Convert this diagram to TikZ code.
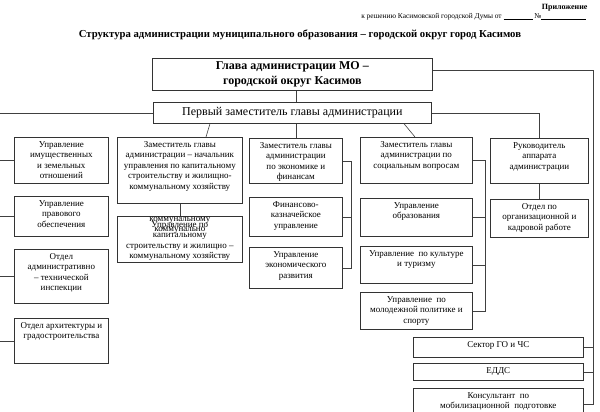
\documentclass[tikz,border=0pt]{standalone}
\usepackage{fontspec}
\setmainfont{Liberation Serif}
\newcommand{\cell}[3]{\parbox[c][#2pt][t]{#1pt}{\centering\rule{0pt}{10pt}#3}}
\begin{document}
\begin{tikzpicture}[x=1pt,y=-1pt,
  box/.style={draw=black!80,line width=0.7pt,inner sep=0pt,anchor=north west,
    font=\fontsize{9}{10.5}\selectfont},
  line/.style={draw=black!75,line width=0.6pt}]

  \useasboundingbox (0,0) rectangle (600,412);
  \clip (0,0) rectangle (600,412);

  % header
  \node[anchor=base east,font=\bfseries\fontsize{8}{9}\selectfont] (pril) at (591,10) {Приложение};
  \node[anchor=base east,font=\fontsize{7.4}{9}\selectfont] (resh) at (590,19)
    {к решению Касимовской городской Думы от \rule[-0.6pt]{29pt}{0.7pt} №\rule[-0.6pt]{45pt}{0.7pt}};
  \node[anchor=base,font=\bfseries\fontsize{10.7}{12}\selectfont] (title) at (300,38)
    {Структура администрации муниципального образования – городской округ город Касимов};

  % top
  \node[box,minimum width=280pt,minimum height=32pt,align=center,
    font=\bfseries\fontsize{12}{14.5}\selectfont] (glava) at (152,58)
    {Глава администрации МО –\\ городской округ Касимов};
  \node[box,minimum width=278pt,minimum height=21pt,
    font=\fontsize{12}{13}\selectfont] (perv) at (153,102)
    {Первый заместитель главы администрации};

  % left column
  \node[box] (imush) at (14,137) {\cell{94}{46}{Управление\\ имущественных\\ и земельных\\ отношений}};
  \node[box] (prav) at (14,196) {\cell{94}{40}{Управление\\ правового\\ обеспечения}};
  \node[box] (ati) at (14,249) {\cell{94}{54}{Отдел\\ административно\\ – технической\\ инспекции}};
  \node[box] (arch) at (14,318) {\cell{94}{45}{Отдел архитектуры и\\ градостроительства}};

  % capital construction
  \node[box] (zamstroy) at (117,137) {\cell{125}{66}{Заместитель главы\\ администрации – начальник\\ управления по капитальному\\ строительству и жилищно-\\ коммунальному хозяйству}};
  \node[box] (ukap) at (117,216) {\parbox[c][46pt][t]{125pt}{\centering\rule{0pt}{5.5pt}коммунальному\\[-4.5pt]
    Управление по\\[-6.5pt]коммунально\\[-4.5pt]капитальному\\
    строительству и жилищно –\\ коммунальному хозяйству}};

  % economics
  \node[box] (zamekon) at (249,138) {\cell{93}{45}{Заместитель главы\\ администрации\\ по экономике и\\ финансам}};
  \node[box] (fin) at (249,197) {\cell{93}{39}{Финансово-\\ казначейское\\ управление}};
  \node[box] (ekon) at (249,247) {\cell{93}{41}{Управление\\ экономического\\ развития}};

  % social
  \node[box] (zamsoc) at (360,137) {\cell{112}{46}{Заместитель главы\\ администрации по\\ социальным вопросам}};
  \node[box] (obr) at (360,198) {\cell{112}{38}{Управление\\ образования}};
  \node[box] (kult) at (360,246) {\cell{112}{37}{Управление\ \ по культуре\\ и туризму}};
  \node[box] (mol) at (360,292) {\cell{112}{37}{Управление\ \ по\\ молодежной политике и\\ спорту}};

  % staff
  \node[box] (ruk) at (490,138) {\cell{98}{45}{Руководитель\\ аппарата\\ администрации}};
  \node[box] (kadr) at (490,199) {\cell{98}{38}{Отдел по\\ организационной и\\ кадровой работе}};

  % bottom right
  \node[box] (go) at (413,337) {\cell{170}{20}{Сектор ГО и ЧС}};
  \node[box] (edds) at (413,363) {\cell{170}{17}{ЕДДС}};
  \node[box] (kons) at (413,388) {\cell{170}{32}{Консультант\ \ по\\ мобилизационной\ \ подготовке}};

  \coordinate (lbus) at (-1,0);
  \coordinate (rbus) at (593,0);
  \coordinate (ebus) at (351,0);
  \coordinate (sbus) at (485,0);

  % connectors
  \path[line] (glava.south -| zamekon.north) -- (perv.north -| zamekon.north);
  \path[line] (perv.south -| zamekon.north) -- (zamekon.north);
  \path[line] (210,0 |- perv.south) -- (206,0 |- zamstroy.north);
  \path[line] (404,0 |- perv.south) -- (415,0 |- zamsoc.north);
  \path[line] (zamstroy.south -| 180,0) -- (ukap.north -| 180,0);
  \path[line] (perv.east) -| (ruk.north);
  \path[line] (ruk.south) -- (kadr.north);

  \path[line] (perv.west) -- (lbus |- perv.west) -- (lbus |- arch.west) -- (arch.west);
  \path[line] (imush.west) -- (lbus |- imush.west);
  \path[line] (prav.west) -- (lbus |- prav.west);
  \path[line] (ati.west) -- (lbus |- ati.west);

  \path[line] (zamekon.east) -- (ebus |- zamekon.east) -- (ebus |- ekon.east) -- (ekon.east);
  \path[line] (fin.east) -- (ebus |- fin.east);

  \path[line] (zamsoc.east) -- (sbus |- zamsoc.east) -- (sbus |- mol.east) -- (mol.east);
  \path[line] (obr.east) -- (sbus |- obr.east);
  \path[line] (kult.east) -- (sbus |- kult.east);

  \path[line] (glava.east |- 0,70) -| (rbus |- kons.east) -- (kons.east);
  \path[line] (go.east) -- (rbus |- go.east);
  \path[line] (edds.east) -- (rbus |- edds.east);
\end{tikzpicture}
\end{document}
